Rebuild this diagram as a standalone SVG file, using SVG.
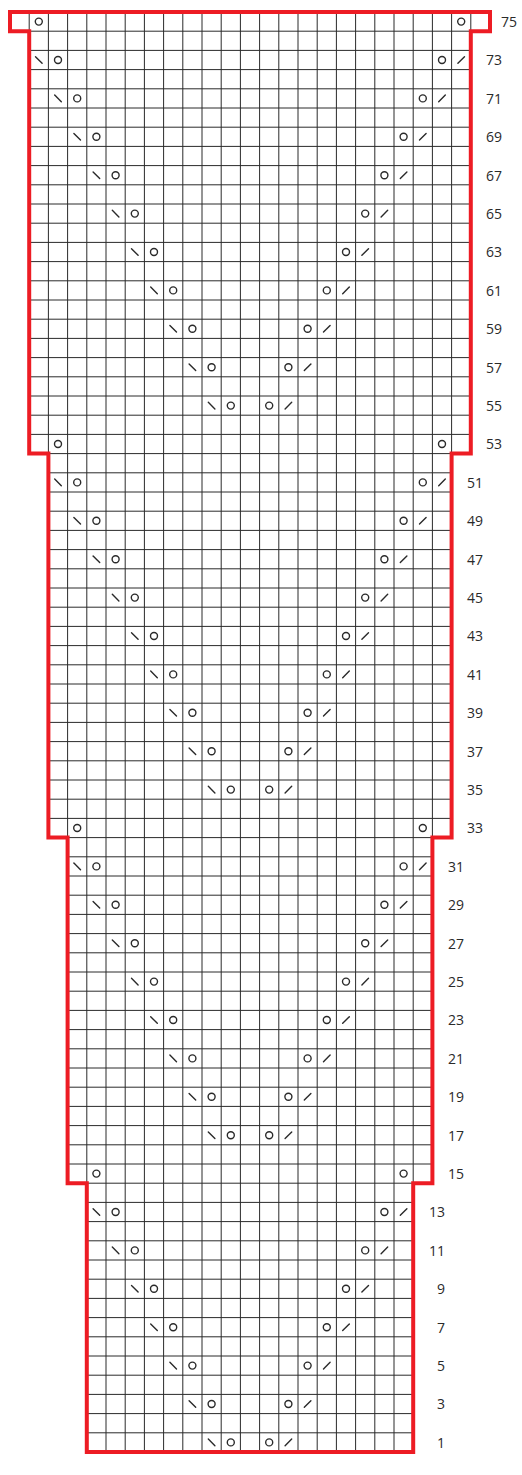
<svg xmlns="http://www.w3.org/2000/svg" xmlns:xlink="http://www.w3.org/1999/xlink" width="522" height="1475" viewBox="0 0 522 1475">
<style>
.grid{fill:none;stroke:#2a2a2a;stroke-width:1}
.outline{fill:none;stroke:#ed1c24;stroke-width:4;stroke-linejoin:miter}
.sym{fill:none;stroke:#2a2a2a;stroke-width:1.4;stroke-linecap:round}
.lbl{font-family:"Open Sans","Liberation Sans",sans-serif;font-size:14px;fill:#2a2a2a;text-anchor:end}
</style>
<defs>
<circle id="o" class="sym" r="3.5"/>
<path id="bs" class="sym" d="M-3.3,-3.3L3.3,3.3"/>
<path id="fs" class="sym" d="M-3.3,3.3L3.3,-3.3"/>
</defs>
<rect width="522" height="1475" fill="#fff"/>
<g id="grid">
<path class="grid" d="M10,31.2H490
M29.2,50.4H470.8M29.2,69.6H470.8M29.2,88.8H470.8M29.2,108H470.8M29.2,127.2H470.8M29.2,146.4H470.8M29.2,165.6H470.8M29.2,184.8H470.8M29.2,204H470.8M29.2,223.2H470.8M29.2,242.4H470.8M29.2,261.6H470.8M29.2,280.8H470.8M29.2,300H470.8M29.2,319.2H470.8M29.2,338.4H470.8M29.2,357.6H470.8M29.2,376.8H470.8M29.2,396H470.8M29.2,415.2H470.8M29.2,434.4H470.8M29.2,453.6H470.8
M48.4,472.8H451.6M48.4,492H451.6M48.4,511.2H451.6M48.4,530.4H451.6M48.4,549.6H451.6M48.4,568.8H451.6M48.4,588H451.6M48.4,607.2H451.6M48.4,626.4H451.6M48.4,645.6H451.6M48.4,664.8H451.6M48.4,684H451.6M48.4,703.2H451.6M48.4,722.4H451.6M48.4,741.6H451.6M48.4,760.8H451.6M48.4,780H451.6M48.4,799.2H451.6M48.4,818.4H451.6M48.4,837.6H451.6
M67.6,856.8H432.4M67.6,876H432.4M67.6,895.2H432.4M67.6,914.4H432.4M67.6,933.6H432.4M67.6,952.8H432.4M67.6,972H432.4M67.6,991.2H432.4M67.6,1010.4H432.4M67.6,1029.6H432.4M67.6,1048.8H432.4M67.6,1068H432.4M67.6,1087.2H432.4M67.6,1106.4H432.4M67.6,1125.6H432.4M67.6,1144.8H432.4M67.6,1164H432.4M67.6,1183.2H432.4
M86.8,1202.4H413.2M86.8,1221.6H413.2M86.8,1240.8H413.2M86.8,1260H413.2M86.8,1279.2H413.2M86.8,1298.4H413.2M86.8,1317.6H413.2M86.8,1336.8H413.2M86.8,1356H413.2M86.8,1375.2H413.2M86.8,1394.4H413.2M86.8,1413.6H413.2M86.8,1432.8H413.2
M29.2,12V31.2M470.8,12V31.2
M48.4,12V453.6M451.6,12V453.6
M67.6,12V837.6M432.4,12V837.6
M86.8,12V1183.2M413.2,12V1183.2
M106,12V1452M125.2,12V1452M144.4,12V1452M163.6,12V1452M182.8,12V1452M202,12V1452M221.2,12V1452M240.4,12V1452M259.6,12V1452M278.8,12V1452M298,12V1452M317.2,12V1452M336.4,12V1452M355.6,12V1452M374.8,12V1452M394,12V1452"/>
</g>
<g id="outline">
<path class="outline" d="M10,12H490V31.2H470.8V453.6H451.6V837.6H432.4V1183.2H413.2V1452H86.8V1183.2H67.6V837.6H48.4V453.6H29.2V31.2H10Z"/>
</g>
<g id="symbols">
<g id="r75"><use href="#o" x="38.8" y="21.6"/><use href="#o" x="461.2" y="21.6"/></g>
<g id="r73"><use href="#bs" x="38.8" y="60"/><use href="#o" x="58" y="60"/><use href="#o" x="442" y="60"/><use href="#fs" x="461.2" y="60"/></g>
<g id="r71"><use href="#bs" x="58" y="98.4"/><use href="#o" x="77.2" y="98.4"/><use href="#o" x="422.8" y="98.4"/><use href="#fs" x="442" y="98.4"/></g>
<g id="r69"><use href="#bs" x="77.2" y="136.8"/><use href="#o" x="96.4" y="136.8"/><use href="#o" x="403.6" y="136.8"/><use href="#fs" x="422.8" y="136.8"/></g>
<g id="r67"><use href="#bs" x="96.4" y="175.2"/><use href="#o" x="115.6" y="175.2"/><use href="#o" x="384.4" y="175.2"/><use href="#fs" x="403.6" y="175.2"/></g>
<g id="r65"><use href="#bs" x="115.6" y="213.6"/><use href="#o" x="134.8" y="213.6"/><use href="#o" x="365.2" y="213.6"/><use href="#fs" x="384.4" y="213.6"/></g>
<g id="r63"><use href="#bs" x="134.8" y="252"/><use href="#o" x="154" y="252"/><use href="#o" x="346" y="252"/><use href="#fs" x="365.2" y="252"/></g>
<g id="r61"><use href="#bs" x="154" y="290.4"/><use href="#o" x="173.2" y="290.4"/><use href="#o" x="326.8" y="290.4"/><use href="#fs" x="346" y="290.4"/></g>
<g id="r59"><use href="#bs" x="173.2" y="328.8"/><use href="#o" x="192.4" y="328.8"/><use href="#o" x="307.6" y="328.8"/><use href="#fs" x="326.8" y="328.8"/></g>
<g id="r57"><use href="#bs" x="192.4" y="367.2"/><use href="#o" x="211.6" y="367.2"/><use href="#o" x="288.4" y="367.2"/><use href="#fs" x="307.6" y="367.2"/></g>
<g id="r55"><use href="#bs" x="211.6" y="405.6"/><use href="#o" x="230.8" y="405.6"/><use href="#o" x="269.2" y="405.6"/><use href="#fs" x="288.4" y="405.6"/></g>
<g id="r53"><use href="#o" x="58" y="444"/><use href="#o" x="442" y="444"/></g>
<g id="r51"><use href="#bs" x="58" y="482.4"/><use href="#o" x="77.2" y="482.4"/><use href="#o" x="422.8" y="482.4"/><use href="#fs" x="442" y="482.4"/></g>
<g id="r49"><use href="#bs" x="77.2" y="520.8"/><use href="#o" x="96.4" y="520.8"/><use href="#o" x="403.6" y="520.8"/><use href="#fs" x="422.8" y="520.8"/></g>
<g id="r47"><use href="#bs" x="96.4" y="559.2"/><use href="#o" x="115.6" y="559.2"/><use href="#o" x="384.4" y="559.2"/><use href="#fs" x="403.6" y="559.2"/></g>
<g id="r45"><use href="#bs" x="115.6" y="597.6"/><use href="#o" x="134.8" y="597.6"/><use href="#o" x="365.2" y="597.6"/><use href="#fs" x="384.4" y="597.6"/></g>
<g id="r43"><use href="#bs" x="134.8" y="636"/><use href="#o" x="154" y="636"/><use href="#o" x="346" y="636"/><use href="#fs" x="365.2" y="636"/></g>
<g id="r41"><use href="#bs" x="154" y="674.4"/><use href="#o" x="173.2" y="674.4"/><use href="#o" x="326.8" y="674.4"/><use href="#fs" x="346" y="674.4"/></g>
<g id="r39"><use href="#bs" x="173.2" y="712.8"/><use href="#o" x="192.4" y="712.8"/><use href="#o" x="307.6" y="712.8"/><use href="#fs" x="326.8" y="712.8"/></g>
<g id="r37"><use href="#bs" x="192.4" y="751.2"/><use href="#o" x="211.6" y="751.2"/><use href="#o" x="288.4" y="751.2"/><use href="#fs" x="307.6" y="751.2"/></g>
<g id="r35"><use href="#bs" x="211.6" y="789.6"/><use href="#o" x="230.8" y="789.6"/><use href="#o" x="269.2" y="789.6"/><use href="#fs" x="288.4" y="789.6"/></g>
<g id="r33"><use href="#o" x="77.2" y="828"/><use href="#o" x="422.8" y="828"/></g>
<g id="r31"><use href="#bs" x="77.2" y="866.4"/><use href="#o" x="96.4" y="866.4"/><use href="#o" x="403.6" y="866.4"/><use href="#fs" x="422.8" y="866.4"/></g>
<g id="r29"><use href="#bs" x="96.4" y="904.8"/><use href="#o" x="115.6" y="904.8"/><use href="#o" x="384.4" y="904.8"/><use href="#fs" x="403.6" y="904.8"/></g>
<g id="r27"><use href="#bs" x="115.6" y="943.2"/><use href="#o" x="134.8" y="943.2"/><use href="#o" x="365.2" y="943.2"/><use href="#fs" x="384.4" y="943.2"/></g>
<g id="r25"><use href="#bs" x="134.8" y="981.6"/><use href="#o" x="154" y="981.6"/><use href="#o" x="346" y="981.6"/><use href="#fs" x="365.2" y="981.6"/></g>
<g id="r23"><use href="#bs" x="154" y="1020"/><use href="#o" x="173.2" y="1020"/><use href="#o" x="326.8" y="1020"/><use href="#fs" x="346" y="1020"/></g>
<g id="r21"><use href="#bs" x="173.2" y="1058.4"/><use href="#o" x="192.4" y="1058.4"/><use href="#o" x="307.6" y="1058.4"/><use href="#fs" x="326.8" y="1058.4"/></g>
<g id="r19"><use href="#bs" x="192.4" y="1096.8"/><use href="#o" x="211.6" y="1096.8"/><use href="#o" x="288.4" y="1096.8"/><use href="#fs" x="307.6" y="1096.8"/></g>
<g id="r17"><use href="#bs" x="211.6" y="1135.2"/><use href="#o" x="230.8" y="1135.2"/><use href="#o" x="269.2" y="1135.2"/><use href="#fs" x="288.4" y="1135.2"/></g>
<g id="r15"><use href="#o" x="96.4" y="1173.6"/><use href="#o" x="403.6" y="1173.6"/></g>
<g id="r13"><use href="#bs" x="96.4" y="1212"/><use href="#o" x="115.6" y="1212"/><use href="#o" x="384.4" y="1212"/><use href="#fs" x="403.6" y="1212"/></g>
<g id="r11"><use href="#bs" x="115.6" y="1250.4"/><use href="#o" x="134.8" y="1250.4"/><use href="#o" x="365.2" y="1250.4"/><use href="#fs" x="384.4" y="1250.4"/></g>
<g id="r9"><use href="#bs" x="134.8" y="1288.8"/><use href="#o" x="154" y="1288.8"/><use href="#o" x="346" y="1288.8"/><use href="#fs" x="365.2" y="1288.8"/></g>
<g id="r7"><use href="#bs" x="154" y="1327.2"/><use href="#o" x="173.2" y="1327.2"/><use href="#o" x="326.8" y="1327.2"/><use href="#fs" x="346" y="1327.2"/></g>
<g id="r5"><use href="#bs" x="173.2" y="1365.6"/><use href="#o" x="192.4" y="1365.6"/><use href="#o" x="307.6" y="1365.6"/><use href="#fs" x="326.8" y="1365.6"/></g>
<g id="r3"><use href="#bs" x="192.4" y="1404"/><use href="#o" x="211.6" y="1404"/><use href="#o" x="288.4" y="1404"/><use href="#fs" x="307.6" y="1404"/></g>
<g id="r1"><use href="#bs" x="211.6" y="1442.4"/><use href="#o" x="230.8" y="1442.4"/><use href="#o" x="269.2" y="1442.4"/><use href="#fs" x="288.4" y="1442.4"/></g>
</g>
<g id="labels">
<text class="lbl" x="517" y="26.9">75</text>
<text class="lbl" x="502" y="65.3">73</text>
<text class="lbl" x="502" y="103.7">71</text>
<text class="lbl" x="502" y="142.1">69</text>
<text class="lbl" x="502" y="180.5">67</text>
<text class="lbl" x="502" y="218.9">65</text>
<text class="lbl" x="502" y="257.3">63</text>
<text class="lbl" x="502" y="295.7">61</text>
<text class="lbl" x="502" y="334.1">59</text>
<text class="lbl" x="502" y="372.5">57</text>
<text class="lbl" x="502" y="410.9">55</text>
<text class="lbl" x="502" y="449.3">53</text>
<text class="lbl" x="483" y="487.7">51</text>
<text class="lbl" x="483" y="526.1">49</text>
<text class="lbl" x="483" y="564.5">47</text>
<text class="lbl" x="483" y="602.9">45</text>
<text class="lbl" x="483" y="641.3">43</text>
<text class="lbl" x="483" y="679.7">41</text>
<text class="lbl" x="483" y="718.1">39</text>
<text class="lbl" x="483" y="756.5">37</text>
<text class="lbl" x="483" y="794.9">35</text>
<text class="lbl" x="483" y="833.3">33</text>
<text class="lbl" x="464" y="871.7">31</text>
<text class="lbl" x="464" y="910.1">29</text>
<text class="lbl" x="464" y="948.5">27</text>
<text class="lbl" x="464" y="986.9">25</text>
<text class="lbl" x="464" y="1025.3">23</text>
<text class="lbl" x="464" y="1063.7">21</text>
<text class="lbl" x="464" y="1102.1">19</text>
<text class="lbl" x="464" y="1140.5">17</text>
<text class="lbl" x="464" y="1178.9">15</text>
<text class="lbl" x="445" y="1217.3">13</text>
<text class="lbl" x="445" y="1255.7">11</text>
<text class="lbl" x="445" y="1294.1">9</text>
<text class="lbl" x="445" y="1332.5">7</text>
<text class="lbl" x="445" y="1370.9">5</text>
<text class="lbl" x="445" y="1409.3">3</text>
<text class="lbl" x="445" y="1447.7">1</text>
</g>
</svg>
